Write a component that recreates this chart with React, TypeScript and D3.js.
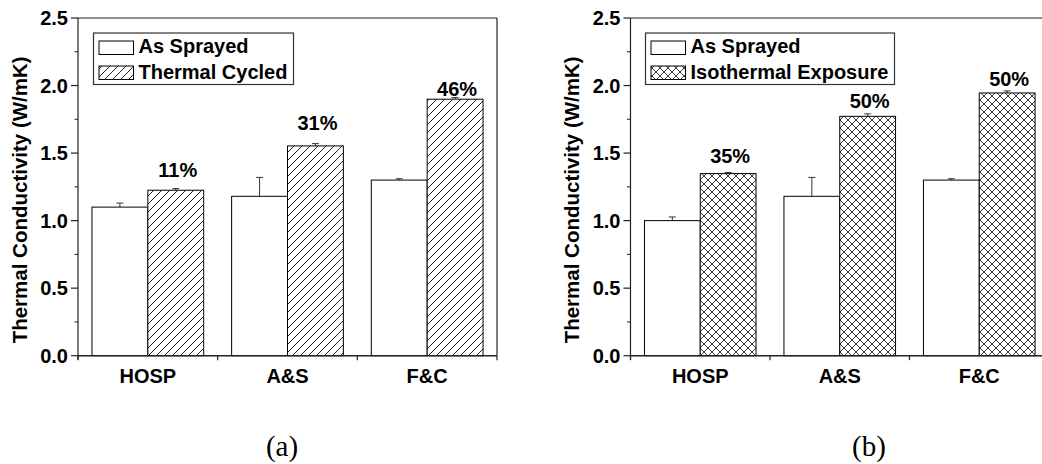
import React from "react";
import * as d3 from "d3";

// Categories and series
const categories = ["HOSP", "A&S", "F&C"];

const asSprayedA = [1.10, 1.18, 1.30];
const asSprayedErrA = [0.03, 0.14, 0.01];
const cycled = [1.225, 1.553, 1.899];
const cycledErr = [0.012, 0.017, 0.012];
const cycledPct = ["11%", "31%", "46%"];
const cycledPctAt = [1.326, 1.672, 1.926];

const asSprayedB = [1.0, 1.18, 1.30];
const asSprayedErrB = [0.027, 0.14, 0.01];
const isothermal = [1.348, 1.772, 1.945];
const isothermalErr = [0.008, 0.018, 0.015];
const isothermalPct = ["35%", "50%", "50%"];
const isothermalPctAt = [1.43, 1.833, 2.0];

const yTicks = [0, 0.5, 1.0, 1.5, 2.0, 2.5];
const yMinorTicks = [0.25, 0.75, 1.25, 1.75, 2.25];

const W = 1042;
const H = 464;
const SANS = "'Liberation Sans', Arial, Helvetica, sans-serif";
const SERIF = "'Liberation Serif', 'Times New Roman', serif";
const FS = 20;

const yScale = d3.scaleLinear().domain([0, 2.5]).range([355.7, 18]);

type PanelProps = {
  left: number;
  right: number;
  base: number[];
  baseErr: number[];
  treated: number[];
  treatedErr: number[];
  pct: string[];
  pctAt: number[];
  legendLabel: string;
  legendBox: { x: number; w: number };
  patternId: string;
  caption: string;
  captionX: number;
  yLabelX: number;
};

function Panel(p: PanelProps) {
  const x = d3
    .scaleBand<string>()
    .domain(categories)
    .range([p.left, p.right])
    .paddingInner(0.2)
    .paddingOuter(0.1);
  const sub = d3
    .scaleBand<string>()
    .domain(["base", "treated"])
    .range([0, x.bandwidth()]);
  const y0 = yScale(0);
  const yTop = yScale(2.5);
  const step = x.step();
  const boundaries = d3.range(categories.length + 1).map((i) => p.left + i * step);

  const bar = (cat: string, key: string, v: number, err: number, fill: string, i: number) => {
    const bx = (x(cat) ?? 0) + (sub(key) ?? 0);
    const bw = sub.bandwidth();
    const cx = bx + bw / 2;
    return (
      <g key={key + i}>
        <line x1={cx} x2={cx} y1={yScale(v)} y2={yScale(v + err)} stroke="#333" strokeWidth={1} />
        <line x1={cx - 3.5} x2={cx + 3.5} y1={yScale(v + err)} y2={yScale(v + err)} stroke="#333" strokeWidth={1} />
        <rect x={bx} y={yScale(v)} width={bw} height={y0 - yScale(v)} fill={fill} stroke="#000" strokeWidth={1} />
      </g>
    );
  };

  const lx = p.legendBox.x;
  return (
    <g>
      {/* bars */}
      {categories.map((c, i) => (
        <g key={c}>
          {bar(c, "base", p.base[i], p.baseErr[i], "#fff", i)}
          {bar(c, "treated", p.treated[i], p.treatedErr[i], `url(#${p.patternId})`, i)}
          <text
            x={(x(c) ?? 0) + (sub("treated") ?? 0) + sub.bandwidth() / 2 + 2}
            y={yScale(p.pctAt[i])}
            textAnchor="middle"
            fontFamily={SANS}
            fontWeight="bold"
            fontSize={FS}
          >
            {p.pct[i]}
          </text>
        </g>
      ))}
      {/* frame */}
      <line x1={p.left} x2={p.right} y1={yTop} y2={yTop} stroke="#222" strokeWidth={1.2} />
      <line x1={p.right} x2={p.right} y1={yTop} y2={y0} stroke="#222" strokeWidth={1.2} />
      <line x1={p.left} x2={p.left} y1={yTop} y2={y0 + 4} stroke="#222" strokeWidth={1.2} />
      <line x1={p.left} x2={p.right} y1={y0} y2={y0} stroke="#222" strokeWidth={1.5} />
      {/* y ticks */}
      {yTicks.map((t) => (
        <g key={t}>
          <line x1={p.left - 7} x2={p.left} y1={yScale(t)} y2={yScale(t)} stroke="#222" strokeWidth={1.2} />
          <text
            x={p.left - 10}
            y={yScale(t)}
            dy="0.36em"
            textAnchor="end"
            fontFamily={SANS}
            fontWeight="bold"
            fontSize={FS}
          >
            {d3.format(".1f")(t)}
          </text>
        </g>
      ))}
      {yMinorTicks.map((t) => (
        <line key={t} x1={p.left - 3.5} x2={p.left} y1={yScale(t)} y2={yScale(t)} stroke="#222" strokeWidth={1} />
      ))}
      {/* x ticks at category boundaries */}
      {boundaries.map((b, i) => (
        <line key={i} x1={b} x2={b} y1={y0} y2={y0 + 4.5} stroke="#222" strokeWidth={1.2} />
      ))}
      {categories.map((c) => (
        <text
          key={c}
          x={(x(c) ?? 0) + x.bandwidth() / 2}
          y={382.5}
          textAnchor="middle"
          fontFamily={SANS}
          fontWeight="bold"
          fontSize={FS}
        >
          {c}
        </text>
      ))}
      {/* y axis title */}
      <text
        transform={`translate(${p.yLabelX},${(yTop + y0) / 2 + 13}) rotate(-90)`}
        textAnchor="middle"
        fontFamily={SANS}
        fontWeight="bold"
        fontSize={20.5}
      >
        Thermal Conductivity (W/mK)
      </text>
      {/* legend */}
      <rect x={lx} y={33} width={p.legendBox.w} height={51.5} fill="#fff" stroke="#333" strokeWidth={1.2} />
      <rect x={lx + 5.5} y={41} width={34.5} height={13.5} fill="#fff" stroke="#000" strokeWidth={1} />
      <rect x={lx + 5.5} y={66} width={34.5} height={13.5} fill={`url(#${p.patternId})`} stroke="#000" strokeWidth={1} />
      <text x={lx + 45} y={53} fontFamily={SANS} fontWeight="bold" fontSize={FS}>
        As Sprayed
      </text>
      <text x={lx + 45} y={79} fontFamily={SANS} fontWeight="bold" fontSize={FS}>
        {p.legendLabel}
      </text>
      {/* panel caption */}
      <text x={p.captionX} y={456} textAnchor="middle" fontFamily={SERIF} fontSize={29}>
        {p.caption}
      </text>
    </g>
  );
}

export default function App() {
  return (
    <svg
      width={W}
      height={H}
      viewBox={`0 0 ${W} ${H}`}
      style={{ position: "absolute", left: 0, top: 0, background: "#fff" }}
    >
      <defs>
        <pattern id="hatch" patternUnits="userSpaceOnUse" width={8} height={8}>
          <rect width={8} height={8} fill="#fff" />
          <path d="M-2,2 L2,-2 M0,8 L8,0 M6,10 L10,6" stroke="#222" strokeWidth={1} />
        </pattern>
        <pattern id="cross" patternUnits="userSpaceOnUse" width={8} height={8}>
          <rect width={8} height={8} fill="#fff" />
          <path d="M-2,2 L2,-2 M0,8 L8,0 M6,10 L10,6 M-2,6 L2,10 M0,0 L8,8 M6,-2 L10,2" stroke="#222" strokeWidth={0.9} />
        </pattern>
      </defs>
      <rect width={W} height={H} fill="#fff" />
      <Panel
        left={78}
        right={497}
        base={asSprayedA}
        baseErr={asSprayedErrA}
        treated={cycled}
        treatedErr={cycledErr}
        pct={cycledPct}
        pctAt={cycledPctAt}
        legendLabel="Thermal Cycled"
        legendBox={{ x: 93.5, w: 200 }}
        patternId="hatch"
        caption="(a)"
        captionX={282}
        yLabelX={27}
      />
      <Panel
        left={630.5}
        right={1049}
        base={asSprayedB}
        baseErr={asSprayedErrB}
        treated={isothermal}
        treatedErr={isothermalErr}
        pct={isothermalPct}
        pctAt={isothermalPctAt}
        legendLabel="Isothermal Exposure"
        legendBox={{ x: 645.5, w: 249 }}
        patternId="cross"
        caption="(b)"
        captionX={869}
        yLabelX={579}
      />
    </svg>
  );
}
